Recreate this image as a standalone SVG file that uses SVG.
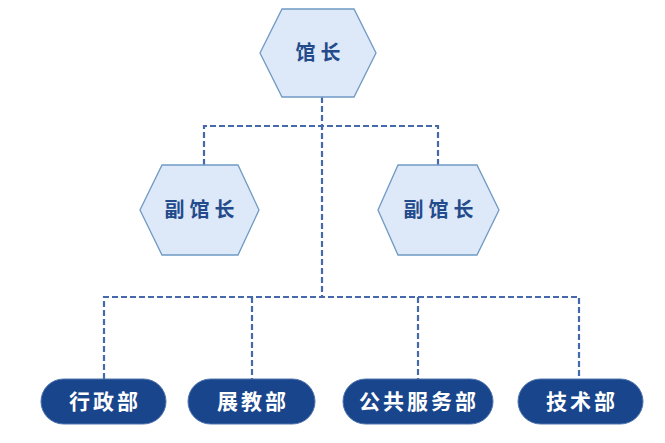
<svg xmlns="http://www.w3.org/2000/svg" width="665" height="443" viewBox="0 0 665 443">
<style>
.hex{fill:#dde8f8;stroke:#6f9ac4;stroke-width:1.3}
.ht{font-family:"Noto Sans CJK SC",sans-serif;font-weight:bold;font-size:20px;fill:#234b8c;text-anchor:middle;letter-spacing:5px}
.pill{fill:#18458b;stroke:#4f74ad;stroke-width:1}
.pt{font-family:"Noto Sans CJK SC",sans-serif;font-weight:bold;font-size:21px;fill:#ffffff;text-anchor:middle;letter-spacing:3px}
.c{fill:none;stroke:#4569ab;stroke-width:2.2;stroke-dasharray:6,3}
</style>
<g id="connectors">
<path class="c" d="M322,97 V297"/>
<path class="c" d="M204,165 V126 H438 V165"/>
<path class="c" d="M104,379 V297 H579 V379"/>
<path class="c" d="M252,297 V379"/>
<path class="c" d="M418,297 V379"/>
</g>
<g id="director">
<polygon class="hex" points="282,9 354,9 376,53 354,97 282,97 260,53"/>
<text class="ht" x="320.5" y="60">馆长</text>
</g>
<g id="deputy1">
<polygon class="hex" points="162,165 238,165 259,210 238,255 162,255 140,210"/>
<text class="ht" x="202" y="217">副馆长</text>
</g>
<g id="deputy2">
<polygon class="hex" points="398,165 477,165 499,210 477,255 398,255 378,210"/>
<text class="ht" x="441" y="217">副馆长</text>
</g>
<g id="admin">
<rect class="pill" x="41" y="379" width="125" height="45" rx="22.5"/>
<text class="pt" x="105" y="409">行政部</text>
</g>
<g id="edu">
<rect class="pill" x="188" y="379" width="127" height="45" rx="22.5"/>
<text class="pt" x="253" y="409">展教部</text>
</g>
<g id="public">
<rect class="pill" x="343" y="379" width="150" height="45" rx="22.5"/>
<text class="pt" x="419" y="409">公共服务部</text>
</g>
<g id="tech">
<rect class="pill" x="518" y="379" width="125" height="45" rx="22.5"/>
<text class="pt" x="582" y="409">技术部</text>
</g>
</svg>
